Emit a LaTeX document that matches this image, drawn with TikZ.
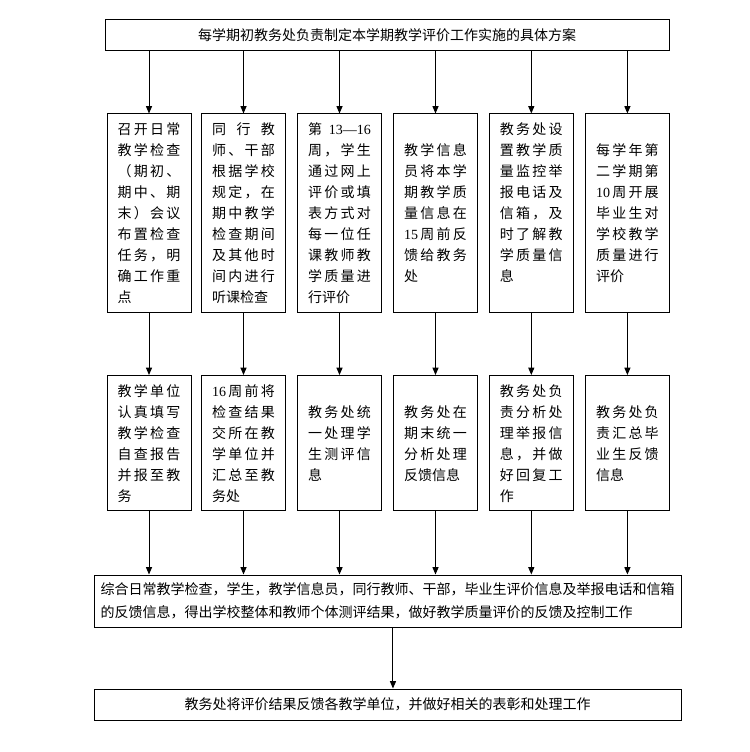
\documentclass[tikz,border=0pt]{standalone}
\usepackage{fontspec}
\newfontfamily\cjk{Noto Sans CJK SC}
\newfontfamily\tnr{Liberation Serif}
\usetikzlibrary{arrows.meta}
\newlength\lw \setlength\lw{47pt}
\def\sline#1{\makebox[\lw][s]{\sfirst#1\relax}}
\def\sfirst#1{#1\srest}
\def\srest#1{\ifx#1\relax\else\hfil#1\expandafter\srest\fi}
\def\lline#1{\makebox[\lw][l]{#1}}
\begin{document}
\begin{tikzpicture}[x=0.75pt,y=-0.75pt,
  colbox/.style={draw,line width=0.75pt,inner sep=0pt,minimum width=63pt,align=left,
    font=\cjk\fontsize{10.5pt}{15.75pt}\selectfont},
  rowa/.style={colbox,minimum height=148.5pt},
  rowb/.style={colbox,minimum height=101.6pt},
  widebox/.style={draw,line width=0.75pt,inner sep=0pt,minimum width=440.25pt,
    font=\cjk\fontsize{10.5pt}{17pt}\selectfont},
  arr/.style={line width=0.75pt,-{Triangle[length=5.5pt,width=4.5pt]}}]
\useasboundingbox (0,0) rectangle (749,752);
\fill[white] (0,0) rectangle (749,752);
\node[widebox,minimum width=423pt,minimum height=23.25pt] (top) at (387,35)
  {每学期初教务处负责制定本学期教学评价工作实施的具体方案};
% row 1
\node[rowa] (a1) at (149,213) {\sline{召开日常}\\\sline{教学检查}\\\sline{（期初、}\\\sline{期中、期}\\\sline{末）会议}\\\sline{布置检查}\\\sline{任务，明}\\\sline{确工作重}\\\lline{点}};
\node[rowa] (a2) at (243.5,213) {\sline{同行教}\\\sline{师、干部}\\\sline{根据学校}\\\sline{规定，在}\\\sline{期中教学}\\\sline{检查期间}\\\sline{及其他时}\\\sline{间内进行}\\\lline{听课检查}};
\node[rowa] (a3) at (339.5,213) {\makebox[\lw][s]{第\hfil{\tnr 13—16}}\\\sline{周，学生}\\\sline{通过网上}\\\sline{评价或填}\\\sline{表方式对}\\\sline{每一位任}\\\sline{课教师教}\\\sline{学质量进}\\\lline{行评价}};
\node[rowa] (a4) at (435.5,213) {\sline{教学信息}\\\sline{员将本学}\\\sline{期教学质}\\\sline{量信息在}\\\makebox[\lw][s]{{\tnr 15}\hfil 周\hfil 前\hfil 反}\\\sline{馈给教务}\\\lline{处}};
\node[rowa] (a5) at (531.3,213) {\sline{教务处设}\\\sline{置教学质}\\\sline{量监控举}\\\sline{报电话及}\\\sline{信箱，及}\\\sline{时了解教}\\\sline{学质量信}\\\lline{息}\\\lline{\phantom{息}}};
\node[rowa] (a6) at (627.4,213) {\sline{每学年第}\\\sline{二学期第}\\\makebox[\lw][s]{{\tnr 10}\hfil 周\hfil 开\hfil 展}\\\sline{毕业生对}\\\sline{学校教学}\\\sline{质量进行}\\\lline{评价}};
% row 2
\node[rowb] (b1) at (149,443.25) {\sline{教学单位}\\\sline{认真填写}\\\sline{教学检查}\\\sline{自查报告}\\\sline{并报至教}\\\lline{务}};
\node[rowb] (b2) at (243.5,443.25) {\makebox[\lw][s]{{\tnr 16}\hfil 周\hfil 前\hfil 将}\\\sline{检查结果}\\\sline{交所在教}\\\sline{学单位并}\\\sline{汇总至教}\\\lline{务处}};
\node[rowb] (b3) at (339.5,443.25) {\sline{教务处统}\\\sline{一处理学}\\\sline{生测评信}\\\lline{息}};
\node[rowb] (b4) at (435.5,443.25) {\sline{教务处在}\\\sline{期末统一}\\\sline{分析处理}\\\lline{反馈信息}};
\node[rowb] (b5) at (531.3,443.25) {\sline{教务处负}\\\sline{责分析处}\\\sline{理举报信}\\\sline{息，并做}\\\sline{好回复工}\\\lline{作}};
\node[rowb] (b6) at (627.4,443.25) {\sline{教务处负}\\\sline{责汇总毕}\\\sline{业生反馈}\\\lline{信息}};
% bottom boxes
\node[widebox,minimum height=39pt,align=left] (comb) at (387.5,601)
  {综合日常教学检查，学生，教学信息员，同行教师、干部，毕业生评价信息及举报电话和信箱\\的反馈信息，得出学校整体和教师个体测评结果，做好教学质量评价的反馈及控制工作};
\node[widebox,minimum height=23.25pt] (fin) at (387.5,704.5)
  {教务处将评价结果反馈各教学单位，并做好相关的表彰和处理工作};
% arrows
\foreach \i in {1,...,6}{
  \draw[arr] (top.south -| a\i.north) -- (a\i.north);
  \draw[arr] (a\i.south) -- (b\i.north);
  \draw[arr] (b\i.south) -- (b\i.south |- comb.north);
}
\coordinate (cm) at ([xshift=4.1pt]comb.south);
\draw[arr] (cm) -- (cm |- fin.north);
\end{tikzpicture}
\end{document}
